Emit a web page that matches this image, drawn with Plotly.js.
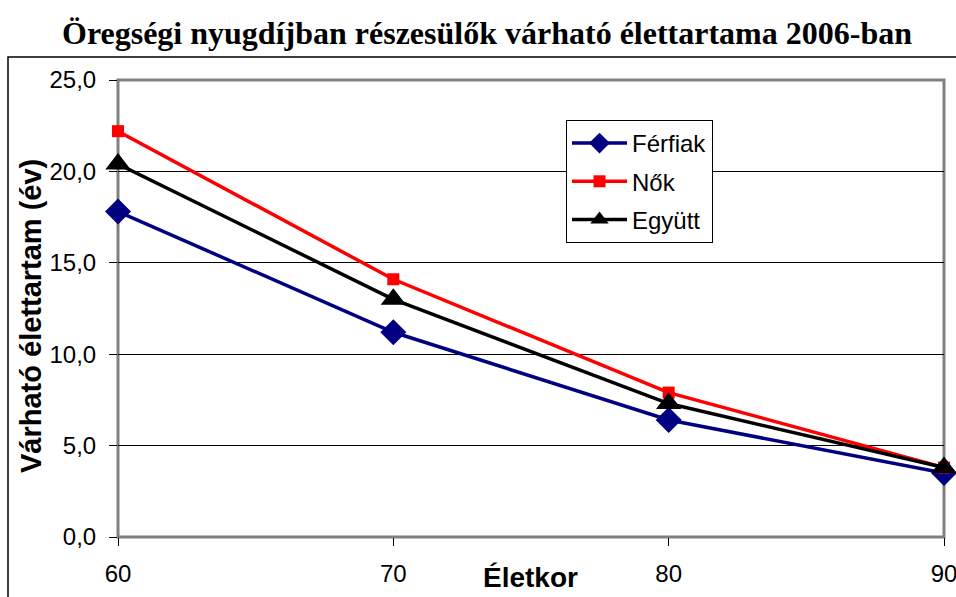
<!DOCTYPE html>
<html>
<head>
<meta charset="utf-8">
<script src="https://cdn.plot.ly/plotly-3.0.1.min.js"></script>
<style>html,body{margin:0;padding:0;background:#fff;}#chart{width:956px;height:597px;}</style>
</head>
<body>
<div id="chart"></div>
<script>
const ages = [60, 70, 80, 90];
const ferfiak = [17.8, 11.2, 6.4, 3.5];
const nok = [22.2, 14.1, 7.9, 3.8];
const egyutt = [20.4, 13.0, 7.3, 3.8];
const seriesNames = ['Férfiak', 'Nők', 'Együtt'];
const yTicks = [0, 5, 10, 15, 20, 25];

const traces = [
  {x: ages, y: ferfiak, name: seriesNames[0], legendgroup: 'a', mode: 'lines+markers',
   line: {color: '#000080', width: 3.5}, marker: {symbol: 'diamond', size: 20, color: '#000080'}, cliponaxis: false},
  {x: ages, y: nok, name: seriesNames[1], legendgroup: 'b', mode: 'lines+markers',
   line: {color: '#FF0000', width: 3.5}, marker: {symbol: 'square', size: 12, color: '#FF0000'}, cliponaxis: false},
  {x: ages, y: egyutt, name: seriesNames[2], legendgroup: 'c', mode: 'lines+markers',
   line: {color: '#000000', width: 3.5}, marker: {symbol: 'triangle-up', size: 22, color: '#000000'}, cliponaxis: false}
];

const L = 118, R = 944, T = 80, B = 537;
const pw = R - L, ph = B - T;

const layout = {
  width: 956, height: 597,
  margin: {l: L, r: 956 - R, t: T, b: 597 - B},
  paper_bgcolor: '#ffffff', plot_bgcolor: '#ffffff',
  separators: ', ',
  font: {family: 'Liberation Sans, Arial, sans-serif', size: 24, color: '#000'},
  title: {text: '<b>Öregségi nyugdíjban részesülők várható élettartama 2006-ban</b>',
    font: {family: 'Liberation Serif, Times New Roman, serif', size: 32, color: '#000'},
    x: 487 / 956, xref: 'container', xanchor: 'center', y: 1 - 33 / 597, yref: 'container', yanchor: 'middle'},
  xaxis: {range: [60, 90], tickvals: ages, ticktext: ages.map(String), showgrid: false, zeroline: false,
    ticks: 'outside', ticklen: 8, tickcolor: '#000', tickwidth: 1, showline: false,
    tickfont: {size: 24}, ticklabelstandoff: 7, ticklabeloverflow: 'allow', fixedrange: true},
  yaxis: {range: [0, 25], tickvals: yTicks, tickformat: '.1f', showgrid: true, gridcolor: '#000', gridwidth: 1,
    zeroline: false, ticks: 'outside', ticklen: 8, tickcolor: '#000', tickwidth: 1, showline: false,
    tickfont: {size: 24}, ticklabelstandoff: 8, fixedrange: true},
  showlegend: true,
  legend: {x: (566 - L) / pw, xanchor: 'left', y: (B - 120) / ph, yanchor: 'top',
    bgcolor: '#fff', bordercolor: '#000', borderwidth: 1, font: {size: 24},
    traceorder: 'grouped', tracegroupgap: 4, itemwidth: 55},
  shapes: [
    {type: 'rect', xref: 'paper', yref: 'paper', x0: 0, x1: 1, y0: 0, y1: 1,
     line: {color: '#808080', width: 3}, layer: 'below'},
    {type: 'rect', xref: 'paper', yref: 'paper', x0: (8 - L) / pw, x1: 1.1, y0: -0.3, y1: (B - 57) / ph,
     line: {color: '#000', width: 1.5}, fillcolor: 'rgba(0,0,0,0)', layer: 'above'}
  ],
  annotations: [
    {text: '<b>Életkor</b>', xref: 'paper', yref: 'paper', x: (530 - L) / pw, y: (B - 577) / ph,
     xanchor: 'center', yanchor: 'middle', showarrow: false, font: {size: 28}},
    {text: '<b>Várható élettartam (év)</b>', xref: 'paper', yref: 'paper', x: (31 - L) / pw, y: (B - 316) / ph,
     xanchor: 'center', yanchor: 'middle', textangle: -90, showarrow: false, font: {size: 29}}
  ]
};

Plotly.newPlot('chart', traces, layout, {displayModeBar: false, staticPlot: true});
</script>
</body>
</html>
